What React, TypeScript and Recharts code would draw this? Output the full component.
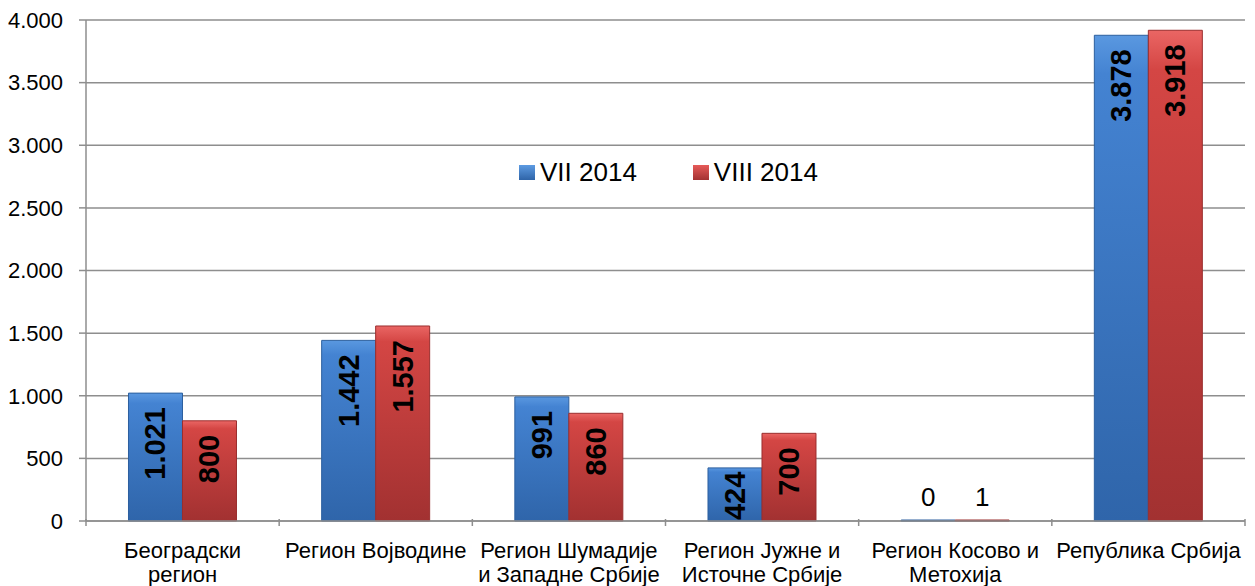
import { BarChart, Bar, XAxis, YAxis, CartesianGrid } from "recharts";

const categories = [
  "Београдски\nрегион",
  "Регион Војводине",
  "Регион Шумадије\nи Западне Србије",
  "Регион Јужне и\nИсточне Србије",
  "Регион Косово и\nМетохија",
  "Република Србија",
];
const julValues = [1021, 1442, 991, 424, 0, 3878];
const augValues = [800, 1557, 860, 700, 1, 3918];
const seriesNames = ["VII 2014", "VIII 2014"];
const yTicks = [0, 500, 1000, 1500, 2000, 2500, 3000, 3500, 4000];

const FONT = "'Liberation Sans', Arial, sans-serif";
const GRID = "#8e8e8e";

const data = categories.map((name, i) => ({
  name,
  jul: julValues[i],
  aug: augValues[i],
}));

function fmt(n: number) {
  return String(n).replace(/\B(?=(\d{3})+(?!\d))/g, ".");
}

// category label plus the tick marks on the category boundaries
function CategoryTick({ x, y, payload, index }: any) {
  const lines = String(payload.value).split("\n");
  const half = payload.offset || 0;
  const top = y - 10;
  return (
    <g>
      <line x1={x - half} x2={x - half} y1={top} y2={top + 7} stroke={GRID} strokeWidth={1.5} />
      {index === categories.length - 1 && (
        <line x1={x + half} x2={x + half} y1={top} y2={top + 7} stroke={GRID} strokeWidth={1.5} />
      )}
      <text x={x} y={y + 29} textAnchor="middle" fontSize={22} fontFamily={FONT} fill="#000">
        {lines.map((l, i) => (
          <tspan key={i} x={x} dy={i === 0 ? 0 : 24}>
            {l}
          </tspan>
        ))}
      </text>
    </g>
  );
}

function ValueLabel({ x, y, width, height, value }: any) {
  const cx = x + width / 2;
  if (value < 50) {
    return (
      <text x={cx} y={y + height - 24} textAnchor="middle" dominantBaseline="central" fontSize={26} fontFamily={FONT} fill="#000">
        {fmt(value)}
      </text>
    );
  }
  const s = fmt(value);
  const fs = 29;
  const len = [...s].reduce((a, c) => a + (c === "." ? 0.278 : 0.556), 0) * fs;
  let endY = y + 14;
  if (endY + len > y + height - 1) endY = Math.max(y + 2, y + height - len - 1);
  return (
    <text
      x={cx}
      y={endY}
      transform={`rotate(-90 ${cx} ${endY})`}
      textAnchor="end"
      dominantBaseline="central"
      fontSize={fs}
      fontWeight="bold"
      fontFamily={FONT}
      fill="#000"
    >
      {s}
    </text>
  );
}

const legendColors = [
  "linear-gradient(#5d9be2, #2f64a8)",
  "linear-gradient(#e65a58, #a33232)",
];

export default function App() {
  return (
    <div style={{ position: "absolute", left: 0, top: 0, width: 1255, height: 586, background: "#fff" }}>
      <BarChart
        width={1255}
        height={586}
        data={data}
        margin={{ top: 20, right: 10, left: 0, bottom: 0 }}
        barCategoryGap="22%"
        barGap={0}
      >
        <defs>
          <linearGradient id="gBlue" x1="0" y1="0" x2="0" y2="1">
            <stop offset="0%" stopColor="#5a98e0" />
            <stop offset="8%" stopColor="#4483d2" />
            <stop offset="100%" stopColor="#2f65aa" />
          </linearGradient>
          <linearGradient id="gRed" x1="0" y1="0" x2="0" y2="1">
            <stop offset="0%" stopColor="#ea6664" />
            <stop offset="8%" stopColor="#d44644" />
            <stop offset="100%" stopColor="#a23131" />
          </linearGradient>
        </defs>
        <CartesianGrid vertical={false} stroke={GRID} strokeWidth={1.5} />
        <XAxis
          dataKey="name"
          height={65}
          interval={0}
          tickLine={false}
          axisLine={{ stroke: GRID, strokeWidth: 1.5 }}
          tick={<CategoryTick />}
        />
        <YAxis
          width={86}
          domain={[0, 4000]}
          ticks={yTicks}
          interval={0}
          tickSize={7}
          tickMargin={16}
          tickFormatter={fmt}
          axisLine={{ stroke: GRID, strokeWidth: 1.5 }}
          tickLine={{ stroke: GRID, strokeWidth: 1.5 }}
          tick={{ fontSize: 22, fontFamily: FONT, fill: "#000" }}
        />
        <Bar dataKey="jul" name={seriesNames[0]} fill="url(#gBlue)" stroke="#2c5f9e" strokeWidth={1} minPointSize={1} isAnimationActive={false} label={<ValueLabel />} />
        <Bar dataKey="aug" name={seriesNames[1]} fill="url(#gRed)" stroke="#9a2e2e" strokeWidth={1} minPointSize={1} isAnimationActive={false} label={<ValueLabel />} />
      </BarChart>
      <div
        style={{
          position: "absolute",
          left: 519,
          top: 157,
          display: "flex",
          alignItems: "center",
          fontFamily: FONT,
          fontSize: 26,
          color: "#000",
          lineHeight: "30px",
        }}
      >
        {seriesNames.map((n, i) => (
          <div key={n} style={{ display: "flex", alignItems: "center", marginRight: i === 0 ? 56 : 0 }}>
            <span style={{ width: 16, height: 15, background: legendColors[i], marginRight: 5, display: "inline-block" }} />
            <span>{n}</span>
          </div>
        ))}
      </div>
    </div>
  );
}
